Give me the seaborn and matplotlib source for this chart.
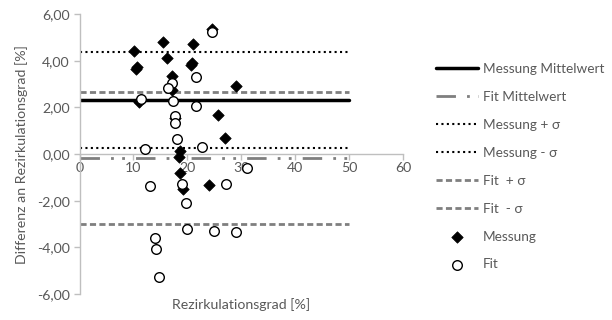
import numpy as np
import pandas as pd
import matplotlib
matplotlib.use("Agg")
import matplotlib.pyplot as plt
import seaborn as sns

# Data
mess_x = [10.2, 10.5, 10.7, 11.0, 11.1, 15.5, 16.3, 17.1, 17.1, 17.8, 21.0, 20.9, 20.7,
          24.6, 25.7, 29.1, 26.9, 18.6, 18.5, 18.7, 19.2, 24.0]
mess_y = [4.41, 3.65, 3.72, 2.23, 2.28, 4.80, 4.10, 3.33, 2.73, 1.54, 4.73, 3.90, 3.82,
          5.34, 1.66, 2.90, 0.69, 0.13, -0.13, -0.81, -1.48, -1.33]
fit_x = [24.6, 17.1, 16.4, 21.7, 11.4, 17.4, 17.8, 17.8, 21.6, 18.0, 12.2, 22.8,
         31.0, 13.1, 19.1, 27.1, 19.7, 20.0, 25.0, 29.0, 14.0, 14.1, 14.7]
fit_y = [5.22, 3.06, 2.84, 3.30, 2.37, 2.26, 1.63, 1.33, 2.07, 0.66, 0.23, 0.30,
         -0.58, -1.38, -1.27, -1.27, -2.08, -3.21, -3.30, -3.35, -3.58, -4.08, -5.29]

line_x = [0, 50]
mess_mean = 2.33
fit_mean = -0.15
mess_plus = 4.36
mess_minus = 0.27
fit_plus = 2.64
fit_minus = -2.98

xticks = [0, 10, 20, 30, 40, 50, 60]
yticks = [-6, -4, -2, 0, 2, 4, 6]

sns.set_theme(style="white")
plt.rcParams['font.family'] = ['Lato', 'DejaVu Sans']
gray_txt = "#595959"
fs = 10.2
fs_leg = 9.8

fig = plt.figure(figsize=(6.12, 3.2), dpi=100)
ax = fig.add_axes([79.5/612, 1-294/320, (403-79.5)/612, 280/320])

def hline(val, label, **kw):
    df = pd.DataFrame({"x": line_x, "y": [val, val]})
    sns.lineplot(data=df, x="x", y="y", ax=ax, label=label, **kw)

hline(mess_mean, "Messung Mittelwert", color="black", linewidth=2.5)
hline(fit_mean, "Fit Mittelwert", color="#7f7f7f", linewidth=2)
ax.lines[-1].set_dashes([7, 4, 1, 3, 1, 4])
hline(mess_plus, "Messung + σ", color="black", linewidth=1.5)
ax.lines[-1].set_dashes([1, 1.6])
hline(mess_minus, "Messung - σ", color="black", linewidth=1.5)
ax.lines[-1].set_dashes([1, 1.6])
hline(fit_plus, "Fit  + σ", color="#7f7f7f", linewidth=2)
ax.lines[-1].set_dashes([2.2, 1.2])
hline(fit_minus, "Fit  - σ", color="#7f7f7f", linewidth=2)
ax.lines[-1].set_dashes([2.2, 1.2])

sns.scatterplot(x=mess_x, y=mess_y, ax=ax, marker="D", s=34, color="black",
                edgecolor="black", linewidth=0.5, label="Messung", zorder=3)
sns.scatterplot(x=fit_x, y=fit_y, ax=ax, marker="o", s=48, facecolor="white",
                edgecolor="black", linewidth=1.0, label="Fit", zorder=3)

ax.set_xlim(0, 60)
ax.set_ylim(-6, 6)
ax.set_xticks(xticks)
ax.set_yticks(yticks)
ax.set_yticklabels([f"{v:.2f}".replace(".", ",") for v in yticks])
ax.set_xticklabels([str(v) for v in xticks])

for s in ["top", "right"]:
    ax.spines[s].set_visible(False)
ax.spines["bottom"].set_position(("data", 0))
ax.spines["bottom"].set_color("#bfbfbf")
ax.spines["left"].set_color("#bfbfbf")
ax.spines["bottom"].set_linewidth(1)
ax.spines["left"].set_linewidth(1)
ax.tick_params(axis="x", direction="out", length=4, width=1, color="#bfbfbf",
               labelcolor=gray_txt, labelsize=fs, pad=2, bottom=True)
ax.tick_params(axis="y", direction="out", length=4, width=1, color="#bfbfbf",
               labelcolor=gray_txt, labelsize=fs, pad=3, left=True)
ax.grid(False)

ax.set_xlabel("")
ax.set_ylabel("")
fig.text(241/612, 1-305/320, "Rezirkulationsgrad [%]", ha="center", va="center",
         color=gray_txt, fontsize=fs)
fig.text(22/612, 1-155/320, "Differenz an Rezirkulationsgrad [%]", ha="center",
         va="center", rotation=90, color=gray_txt, fontsize=fs)

h, lab = ax.get_legend_handles_labels()
leg = ax.legend(h, lab, loc="upper left", bbox_to_anchor=(436/612, 1-63/320),
                bbox_transform=fig.transFigure, frameon=False, fontsize=fs_leg,
                handlelength=3.1, handletextpad=0.35, labelspacing=1.17,
                borderaxespad=0, borderpad=0, labelcolor=gray_txt)

fig.savefig("out.png", dpi=100)
